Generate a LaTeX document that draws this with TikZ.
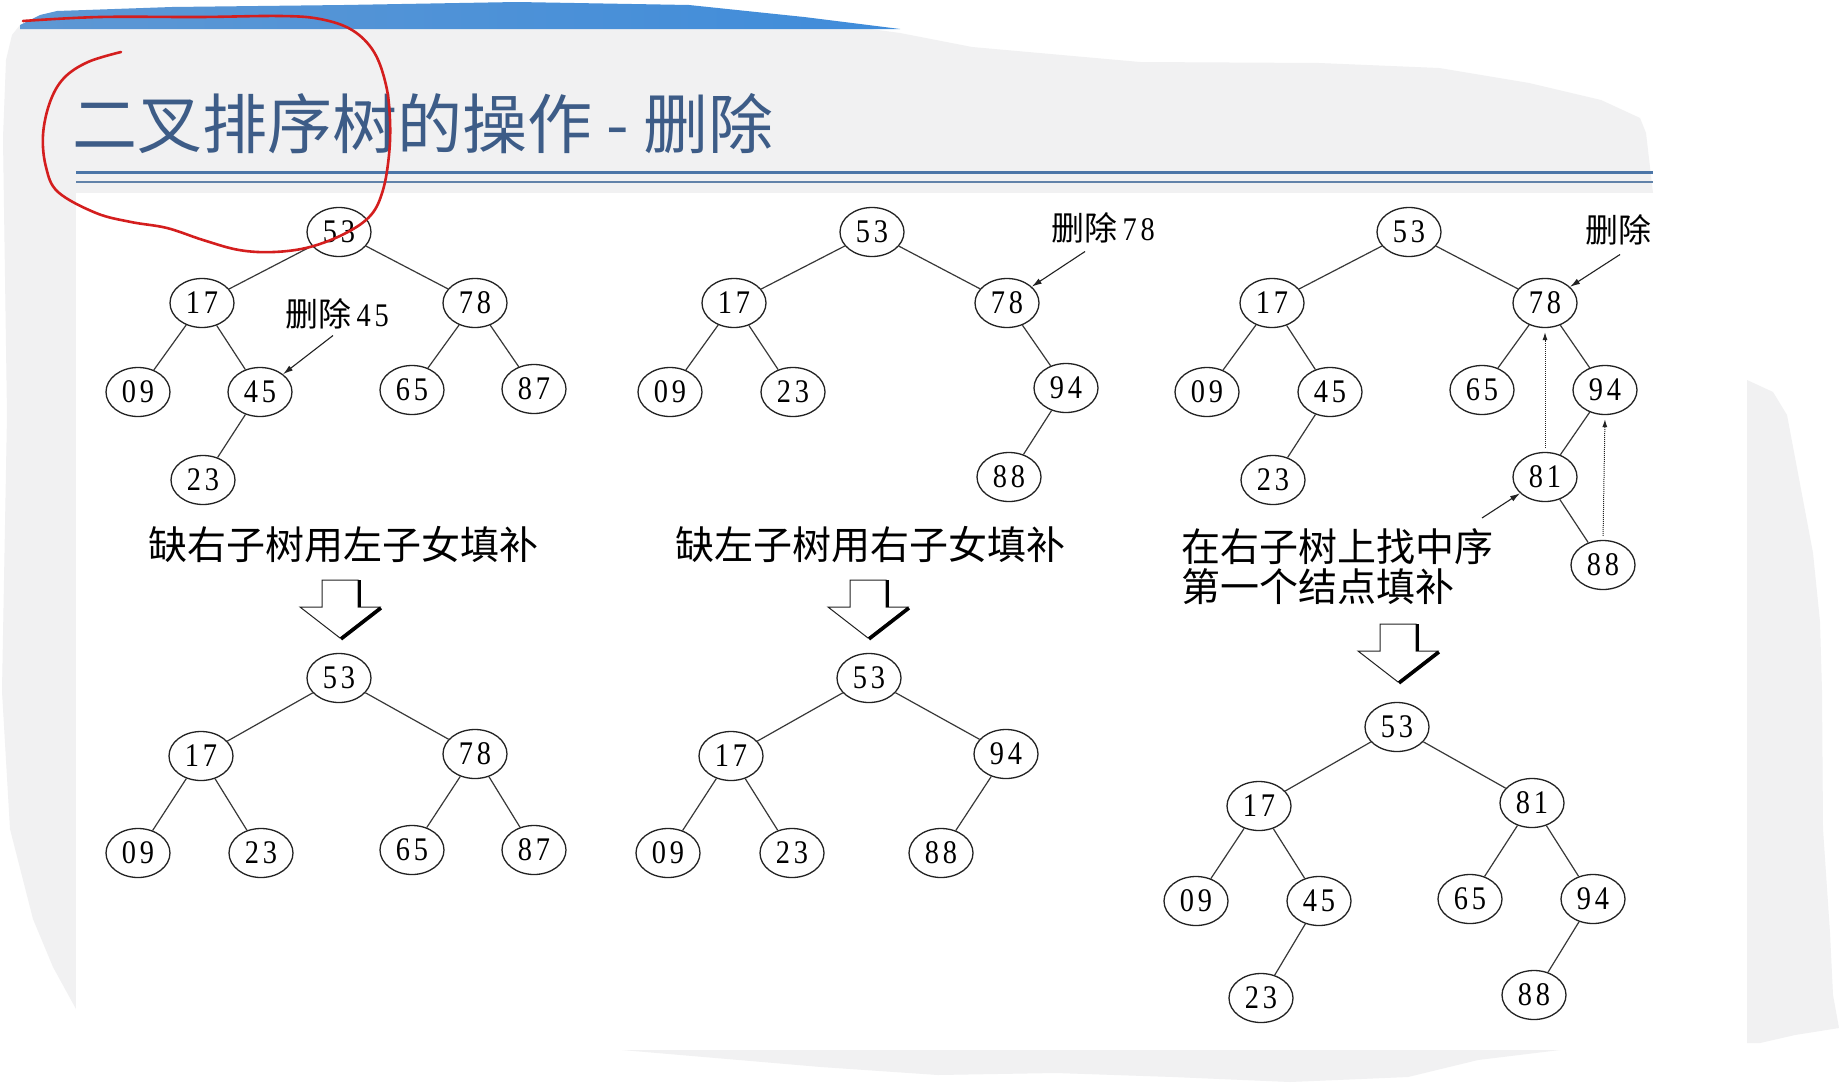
\documentclass[tikz,border=0pt]{standalone}
\usepackage{fontspec}
\setmainfont{Liberation Serif}
\newfontfamily\cjk{Noto Sans CJK SC}
\newfontfamily\numfont[FakeStretch=0.86,LetterSpace=12]{Liberation Serif}
\usetikzlibrary{arrows.meta,shapes.geometric}
\definecolor{slidegray}{HTML}{F1F1F2}
\definecolor{bandblue}{HTML}{3F8CDA}
\definecolor{bandleft}{HTML}{5E98D4}
\definecolor{bandlight}{HTML}{8DBCE7}
\definecolor{titleblue}{HTML}{3D5C87}
\definecolor{ruleblue}{HTML}{4C76A8}
\definecolor{rulethin}{HTML}{6283AA}
\definecolor{penred}{HTML}{D41E1E}
\definecolor{ink}{HTML}{222222}
\newcommand{\numsz}{\numfont\fontsize{33}{33}\selectfont}
\newcommand{\labsz}{\fontsize{33}{33}\selectfont}
\newcommand{\hintsz}{\fontsize{39}{40}\selectfont}
\tikzset{
  tnode/.style={ellipse,draw=ink,line width=1.3pt,minimum width=64pt,minimum height=49pt,
                inner sep=0pt,font=\numsz},
  branch/.style={draw=ink!90,line width=1.2pt},
  pointer/.style={-{Latex[length=10pt,width=6pt]},line width=1.1pt,draw=ink},
  upflow/.style={-{Latex[length=8pt,width=5pt]},line width=1pt,densely dotted,draw=ink},
  hint/.style={font=\cjk\hintsz,inner sep=0pt},
  lab/.style={font=\labsz,inner sep=0pt},
  blockarr/.style={draw=ink,line width=1pt,fill=white,line join=miter},
  blockedge/.style={draw=black,line width=3.5pt},
  redpen/.style={draw=penred,line width=2.6pt,line cap=round,line join=round}
}
\begin{document}
\begin{tikzpicture}[x=1pt,y=-1pt]
  \useasboundingbox (0,0) rectangle (1839,1084);
  \fill[white] (0,0) rectangle (1839,1084);
  % slide background
  \fill[slidegray] (20,25) -- (12,35) -- (6,60) -- (3,138) -- (7,415) -- (2,691) -- (10,829)
    -- (33,919) -- (53,967) -- (76,1009) -- (76,193) -- (1653,193) -- (1646,133) -- (1640,118)
    -- (1601,100) -- (1529,83) -- (1439,68) -- (1319,63) -- (1140,62) -- (972,47) -- (900,33)
    -- (804,20) -- (689,8) -- (517,5) -- (344,8) -- (172,10) -- (57,14) -- cycle;
  \fill[slidegray] (1747,380) -- (1773,392) -- (1787,415) -- (1800,484) -- (1813,553) -- (1820,622)
    -- (1822,691) -- (1823,829) -- (1830,933) -- (1833,995) -- (1839,1028) -- (1795,1035)
    -- (1760,1043) -- (1747,1043) -- cycle;
  \fill[slidegray] (622,1050) -- (1560,1050) -- (1478,1060) -- (1408,1077) -- (1290,1082)
    -- (1173,1077) -- (1056,1073) -- (938,1075) -- (821,1067) -- cycle;
  \fill[white] (76,193) rectangle (1747,1050);
  \shade[left color=bandleft,middle color=bandlight,right color=bandblue]
    (20,29) -- (20,25) -- (40,15) -- (57,11) -- (172,7) -- (344,5) -- (517,2) -- (689,5)
    -- (804,17) -- (860,24) -- (900,29) -- cycle;
  % title
  \node[anchor=west,text=titleblue,font=\cjk\fontsize{65}{65}\selectfont,inner sep=0pt]
    (title) at (72,124) {二叉排序树的操作 - 删除};
  \draw[ruleblue,line width=3pt] (76,172) -- (1653,172);
  \draw[rulethin,line width=1.6pt] (76,182) -- (1653,182);

  % upper trees
  \foreach \n/\x/\y in {53/339/232,17/202/303,78/475/303,09/138/392,45/260/392,65/412/390,87/534/389,23/203/480}
    \node[tnode] (ua\n) at (\x,\y) {\n};
  \foreach \n/\x/\y in {53/872/232,17/734/303,78/1007/303,09/670/392,23/793/392,94/1066/388,88/1009/477}
    \node[tnode] (ub\n) at (\x,\y) {\n};
  \foreach \n/\x/\y in {53/1409/232,17/1272/303,78/1545/303,09/1207/392,45/1330/392,65/1482/390,94/1605/390,23/1273/480,81/1545/477,88/1603/565}
    \node[tnode] (uc\n) at (\x,\y) {\n};
  \foreach \p/\c in {53/17,53/78,17/09,17/45,45/23,78/65,78/87}
    \draw[branch] (ua\p) -- (ua\c);
  \foreach \p/\c in {53/17,53/78,17/09,17/23,78/94,94/88}
    \draw[branch] (ub\p) -- (ub\c);
  \foreach \p/\c in {53/17,53/78,17/09,17/45,45/23,78/65,78/94,94/81,81/88}
    \draw[branch] (uc\p) -- (uc\c);

  % lower trees
  \foreach \n/\x/\y in {53/339/678,17/201/756,78/475/754,09/138/853,23/261/853,65/412/850,87/534/850}
    \node[tnode] (da\n) at (\x,\y) {\n};
  \foreach \n/\x/\y in {53/869/678,17/731/756,94/1006/754,09/668/853,23/792/853,88/941/853}
    \node[tnode] (db\n) at (\x,\y) {\n};
  \foreach \n/\x/\y in {53/1397/727,17/1259/806,81/1532/803,09/1196/901,45/1319/901,65/1470/899,94/1593/899,23/1261/998,88/1534/995}
    \node[tnode] (dc\n) at (\x,\y) {\n};
  \foreach \p/\c in {53/17,53/78,17/09,17/23,78/65,78/87}
    \draw[branch] (da\p) -- (da\c);
  \foreach \p/\c in {53/17,53/94,17/09,17/23,94/88}
    \draw[branch] (db\p) -- (db\c);
  \foreach \p/\c in {53/17,53/81,17/09,17/45,45/23,81/65,81/94,94/88}
    \draw[branch] (dc\p) -- (dc\c);

  % labels and pointers
  \node[lab] (lab45) at (337,314) {{\cjk 删除}\,{\numfont 45}};
  \node[lab] (lab78) at (1103,228) {{\cjk 删除}\,{\numfont 78}};
  \node[lab] (labdel) at (1618,230) {{\cjk 删除}};
  \draw[pointer] ([xshift=-4pt,yshift=-6pt]lab45.south) -- (ua45);
  \draw[pointer] ([xshift=-18pt,yshift=-8pt]lab78.south) -- (ub78);
  \draw[pointer] ([xshift=2pt,yshift=-9pt]labdel.south) -- (uc78);
  \draw[upflow,shorten <=4pt,shorten >=4pt] (uc81.north) -- (uc78.south);
  \draw[upflow,shorten <=4pt,shorten >=4pt] (uc88.north) -- (uc94.south);

  \node[hint] (capa) at (343,545) {缺右子树用左子女填补};
  \node[hint] (capb) at (870,545) {缺左子树用右子女填补};
  \node[hint,anchor=west,align=left] (capc) at (1181,567) {在右子树上找中序\\第一个结点填补};
  \coordinate (capcend) at (1482,518);
  \draw[pointer] (capcend) -- (uc81);

  % hollow down arrows
  \foreach \cx/\ty in {340/580,868/580,1398/624}{
    \draw[blockarr] (\cx,\ty) ++(-18,0) -- ++(36,0) -- ++(0,27) -- ++(22,0) -- ++(-40,31)
      -- ++(-40,-31) -- ++(22,0) -- cycle;
    \draw[blockedge] (\cx,\ty) ++(19.5,0) -- ++(0,27);
    \draw[blockedge] (\cx,\ty) ++(41,28) -- ++(-40,31);
  }

  % hand-drawn ring
  \draw[redpen] plot[smooth,tension=0.6] coordinates {(121,52) (88,62) (64,78) (50,102) (43,135)
    (46,167) (58,192) (96,213) (131,222) (167,228) (203,240) (239,250) (274,252) (310,247)
    (346,233) (371,215) (383,190) (389,155) (390,120) (386,85) (374,52) (352,30) (320,19)
    (280,16) (200,17) (100,17) (23,21)};
\end{tikzpicture}
\end{document}
